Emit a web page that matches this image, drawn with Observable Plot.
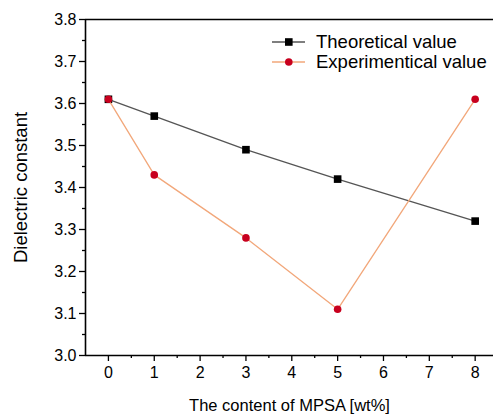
<!DOCTYPE html>
<html>
<head>
<meta charset="utf-8">
<script src="https://cdn.jsdelivr.net/npm/d3@7"></script>
<script src="https://cdn.jsdelivr.net/npm/@observablehq/plot@0.6"></script>
<style>
  html, body { margin: 0; padding: 0; background: #fff; }
  #wrap { position: relative; width: 493px; height: 414px; font-family: "Liberation Sans", Arial, sans-serif; }
  #legend { position: absolute; left: 271px; top: 32px; font-size: 18.5px; color: #000; }
  #legend .row { display: flex; align-items: center; height: 20px; white-space: nowrap; }
  #legend svg { margin-right: 10px; }
  #wrap g[aria-label="y-axis label"] { font-size: 18.5px; }
  #wrap g[aria-label="x-axis label"] { font-size: 16.5px; }
</style>
</head>
<body>
<div id="wrap"></div>
<script>
// Data
const mpsaContent = [0, 1, 3, 5, 8];
const theoreticalValue = [3.61, 3.57, 3.49, 3.42, 3.32];
const experimentalValue = [3.61, 3.43, 3.28, 3.11, 3.61];
const xTicks = [0, 1, 2, 3, 4, 5, 6, 7, 8];
const yTicks = [3.0, 3.1, 3.2, 3.3, 3.4, 3.5, 3.6, 3.7, 3.8];
const seriesNames = ["Theoretical value", "Experimentical value"];

const theo = mpsaContent.map((x, i) => ({x, y: theoreticalValue[i]}));
const expe = mpsaContent.map((x, i) => ({x, y: experimentalValue[i]}));
const xMinor = xTicks.slice(0, -1).map(t => t + 0.5);
const yMinor = yTicks.slice(0, -1).map(t => +(t + 0.05).toFixed(2));

const lineColT = "#555555", lineColE = "#f2a77a", dotColE = "#c8001e";
const blank = () => "";

const chart = Plot.plot({
  width: 493,
  height: 414,
  marginLeft: 85,
  marginRight: 0,
  marginTop: 19,
  marginBottom: 59,
  style: {fontFamily: "'Liberation Sans', Arial, sans-serif", fontSize: "16px", color: "#000", background: "#fff"},
  x: {domain: [-0.5, 8.4]},
  y: {domain: [3.0, 3.8]},
  marks: [
    Plot.axisY({ticks: yTicks, tickFormat: d3.format(".1f"), tickSize: 6, tickPadding: 3, strokeWidth: 1.3, fontSize: 16,
      label: "Dielectric constant", labelAnchor: "center", labelOffset: 72, labelArrow: "none"}),
    Plot.axisY({ticks: yMinor, tickFormat: blank, tickSize: 3, strokeWidth: 1.3, label: null}),
    Plot.axisX({ticks: xTicks, tickFormat: d3.format("d"), tickSize: 6, tickPadding: 5, strokeWidth: 1.3, fontSize: 16,
      label: "The content of MPSA [wt%]", labelAnchor: "center", labelOffset: 55, labelArrow: "none"}),
    Plot.axisX({ticks: xMinor, tickFormat: blank, tickSize: 3, strokeWidth: 1.3, label: null}),
    Plot.ruleX([-0.5], {stroke: "#000", strokeWidth: 1.6}),
    Plot.ruleY([3.0, 3.8], {stroke: "#000", strokeWidth: 1.6}),
    Plot.line(theo, {x: "x", y: "y", stroke: lineColT, strokeWidth: 1.3}),
    Plot.dot(theo, {x: "x", y: "y", symbol: "square", r: 4.3, fill: "#000", stroke: "none"}),
    Plot.line(expe, {x: "x", y: "y", stroke: lineColE, strokeWidth: 1.3}),
    Plot.dot(expe, {x: "x", y: "y", symbol: "circle", r: 3.8, fill: dotColE, stroke: "none"})
  ]
});
const wrap = document.getElementById("wrap");
wrap.appendChild(chart);

// Legend
const legend = document.createElement("div");
legend.id = "legend";
const sym = [
  `<svg width="35" height="12"><line x1="1" y1="6" x2="34" y2="6" stroke="${lineColT}" stroke-width="1.3"/><rect x="14" y="2.2" width="7.6" height="7.6" fill="#000"/></svg>`,
  `<svg width="35" height="12"><line x1="1" y1="6" x2="34" y2="6" stroke="${lineColE}" stroke-width="1.3"/><circle cx="17.8" cy="6" r="3.8" fill="${dotColE}"/></svg>`
];
seriesNames.forEach((name, i) => {
  const row = document.createElement("div");
  row.className = "row";
  row.innerHTML = sym[i] + `<span>${name}</span>`;
  legend.appendChild(row);
});
wrap.appendChild(legend);
</script>
</body>
</html>
